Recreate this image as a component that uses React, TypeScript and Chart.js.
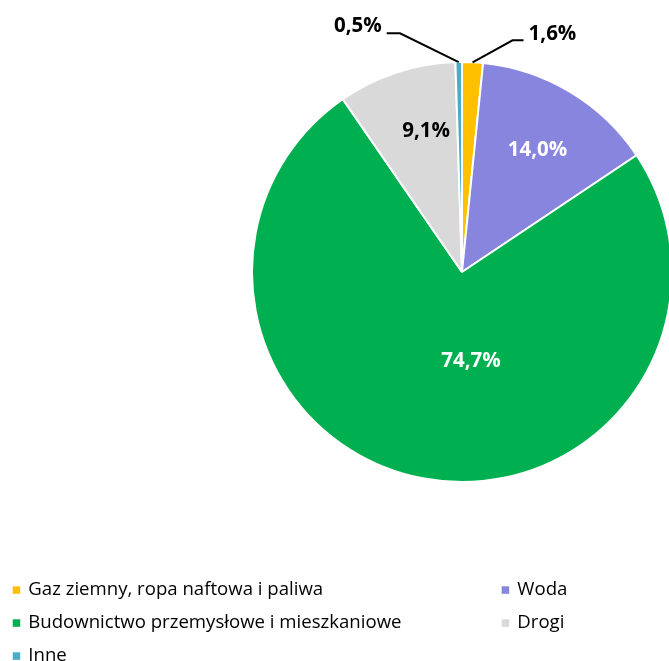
import React, { useEffect, useRef } from "react";
import { Chart, registerables } from "chart.js";

Chart.register(...registerables);

const categories = [
  "Gaz ziemny, ropa naftowa i paliwa",
  "Woda",
  "Budownictwo przemysłowe i mieszkaniowe",
  "Drogi",
  "Inne",
];
const shares = [1.6, 14.0, 74.7, 9.1, 0.5];
const sliceColors = ["#FFC000", "#8785DE", "#00B050", "#D9D9D9", "#4BACC6"];

const FONT = "'Open Sans', sans-serif";

type LabelCfg =
  | { type: "in"; frac: number; dx: number; dy: number; color: string }
  | { type: "out"; elbow: [number, number]; end: number; tdx: number; tdy: number; align: CanvasTextAlign };

const labelCfg: LabelCfg[] = [
  { type: "out", elbow: [40, -22], end: 11, tdx: 5, tdy: -6, align: "left" },
  { type: "in", frac: 0.68, dx: 2, dy: 1, color: "#FFFFFF" },
  { type: "in", frac: 0.43, dx: 26, dy: 0, color: "#FFFFFF" },
  { type: "in", frac: 0.7, dx: 10, dy: -1, color: "#000000" },
  { type: "out", elbow: [-58.7, -28.7], end: -13.3, tdx: -5, tdy: -7.5, align: "right" },
];

const fmt = (v: number) => v.toFixed(1).replace(".", ",") + "%";

const labelPlugin = {
  id: "sliceLabels",
  afterDatasetsDraw(chart: any) {
    const ctx = chart.ctx;
    const meta = chart.getDatasetMeta(0);
    ctx.save();
    ctx.font = `bold 20.5px ${FONT}`;
    ctx.textBaseline = "middle";
    meta.data.forEach((arc: any, i: number) => {
      const { x, y, startAngle, endAngle, outerRadius } = arc.getProps(
        ["x", "y", "startAngle", "endAngle", "outerRadius"],
        true
      );
      const mid = (startAngle + endAngle) / 2;
      const cfg = labelCfg[i];
      const text = fmt(shares[i]);
      if (cfg.type === "in") {
        const r = outerRadius * cfg.frac;
        ctx.fillStyle = cfg.color;
        ctx.textAlign = "center";
        ctx.fillText(text, x + Math.cos(mid) * r + cfg.dx, y + Math.sin(mid) * r + cfg.dy);
      } else {
        const px = x + Math.cos(mid) * outerRadius;
        const py = y + Math.sin(mid) * outerRadius;
        const ex = px + cfg.elbow[0];
        const ey = py + cfg.elbow[1];
        const hx = ex + cfg.end;
        ctx.strokeStyle = "#000000";
        ctx.lineWidth = 2;
        ctx.beginPath();
        ctx.moveTo(px, py);
        ctx.lineTo(ex, ey);
        ctx.lineTo(hx, ey);
        ctx.stroke();
        ctx.fillStyle = "#000000";
        ctx.textAlign = cfg.align;
        ctx.fillText(text, hx + cfg.tdx, ey + cfg.tdy);
      }
    });
    ctx.restore();
  },
};

const legendCols = [12.7, 501.7];
const legendRows = [590, 623, 656];

const legendPlugin = {
  id: "gridLegend",
  afterDraw(chart: any) {
    const ctx = chart.ctx;
    const labels: string[] = chart.data.labels;
    const colors: string[] = chart.data.datasets[0].backgroundColor;
    ctx.save();
    ctx.font = `18.6px ${FONT}`;
    ctx.textBaseline = "middle";
    ctx.textAlign = "left";
    labels.forEach((lab, i) => {
      const cx = legendCols[i % 2];
      const cy = legendRows[Math.floor(i / 2)];
      ctx.fillStyle = colors[i];
      ctx.fillRect(cx, cy - 3.7, 7.5, 7.5);
      ctx.fillStyle = "#000000";
      ctx.fillText(lab, cx + 15.6, cy);
    });
    ctx.restore();
  },
};

export default function App() {
  const ref = useRef<HTMLCanvasElement | null>(null);
  useEffect(() => {
    if (!ref.current) return;
    const chart = new Chart(ref.current, {
      type: "pie",
      data: {
        labels: categories,
        datasets: [
          {
            data: shares,
            backgroundColor: sliceColors,
            borderColor: "#FFFFFF",
            borderWidth: 2,
          },
        ],
      },
      options: {
        responsive: false,
        animation: false,
        devicePixelRatio: 1,
        layout: { padding: { left: 251, right: 27, top: 61, bottom: 178 } },
        plugins: {
          legend: { display: false },
          tooltip: { enabled: false },
        },
      },
      plugins: [labelPlugin, legendPlugin],
    });
    return () => chart.destroy();
  }, []);
  return (
    <div
      style={{
        position: "fixed",
        left: 0,
        top: 0,
        width: 669,
        height: 661,
        overflow: "hidden",
        background: "#FFFFFF",
      }}
    >
      <canvas ref={ref} width={700} height={661} style={{ width: 700, height: 661, display: "block" }} />
    </div>
  );
}
